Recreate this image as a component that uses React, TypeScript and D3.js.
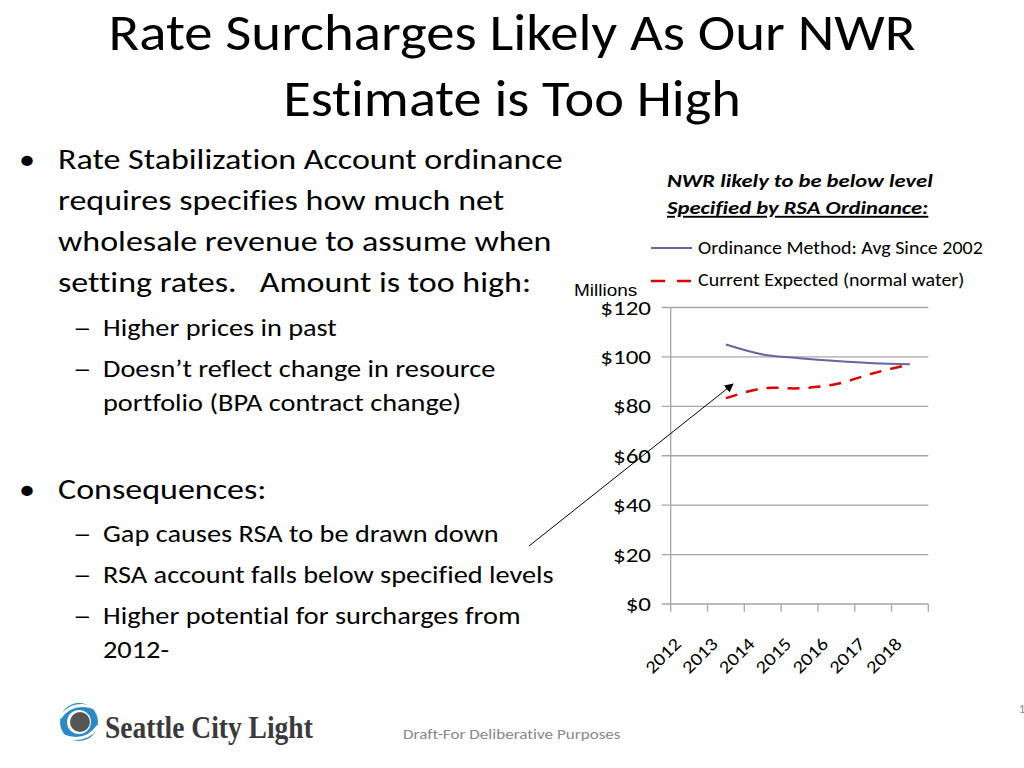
import React from 'react';
import * as d3 from 'd3';

const years = ['2012', '2013', '2014', '2015', '2016', '2017', '2018'];
const ordinance: (number | null)[] = [null, 105, 101, 99.5, 98.3, 97.4, 97];
const expected: (number | null)[] = [null, 83.3, 87.3, 87.3, 89, 93.4, 97];
const yTicks = [0, 20, 40, 60, 80, 100, 120];
const seriesNames = ['Ordinance Method: Avg Since 2002', 'Current Expected (normal water)'];

const bullets = [
  { lvl: 1, lines: ['Rate Stabilization Account ordinance', 'requires specifies how much net', 'wholesale revenue to assume when', 'setting rates.   Amount is too high:'], y: 160 },
  { lvl: 2, lines: ['Higher prices in past'], y: 327 },
  { lvl: 2, lines: ['Doesn\u2019t reflect change in resource', 'portfolio (BPA contract change)'], y: 368 },
  { lvl: 1, lines: ['Consequences:'], y: 490 },
  { lvl: 2, lines: ['Gap causes RSA to be drawn down'], y: 533 },
  { lvl: 2, lines: ['RSA account falls below specified levels'], y: 574 },
  { lvl: 2, lines: ['Higher potential for surcharges from', '2012-'], y: 615 },
];

const FONT = 'Carlito, Calibri, Lato, "Open Sans", sans-serif';

type TP = { x: number; y: number; sx?: number; rot?: number; children: React.ReactNode; [k: string]: any };
function T({ x, y, sx = 1, rot = 0, children, ...rest }: TP) {
  return (
    <text transform={`translate(${x},${y}) rotate(${rot}) scale(${sx},1)`} style={{ whiteSpace: 'pre', fontVariantLigatures: 'none' }} {...rest}>
      {children}
    </text>
  );
}

export default function App() {
  const x = d3.scaleBand<string>().domain(years).range([670.7, 928.3]);
  const y = d3.scaleLinear().domain([0, 120]).range([604, 307.5]);
  const cx = (i: number) => (x(years[i]) as number) + x.bandwidth() / 2;
  const mk = (arr: (number | null)[]) =>
    d3.line<number | null>()
      .defined((d) => d !== null)
      .x((_, i) => cx(i))
      .y((d) => y(d as number))
      .curve(d3.curveCatmullRom.alpha(0.5))(arr) || '';

  return (
    <svg width={1024} height={768} style={{ position: 'absolute', left: 0, top: 0, background: '#fff' }}>
      <defs>
        <marker id="ah" viewBox="0 0 10 10" refX="9" refY="5" markerWidth="9" markerHeight="9" orient="auto">
          <path d="M0,0 L10,5 L0,10 z" fill="#000" />
        </marker>
      </defs>
      {/* Title */}
      <g fontFamily={FONT} fill="#000" textAnchor="middle" fontSize={51}>
        <T x={512} y={50} sx={1.112}>Rate Surcharges Likely As Our NWR</T>
        <T x={512} y={116} sx={1.105}>Estimate is Too High</T>
      </g>
      {/* Bullets */}
      <g fontFamily={FONT} fill="#000">
        {bullets.map((b, bi) =>
          b.lines.map((ln, li) => {
            const yy = b.y + li * (b.lvl === 1 ? 41 : 34) + 8.5;
            return (
              <g key={bi + '-' + li}>
                {li === 0 && (
                  <T x={b.lvl === 1 ? 19 : 73} y={yy} sx={b.lvl === 1 ? 1.15 : 1.55} fontSize={b.lvl === 1 ? 28 : 24}>
                    {b.lvl === 1 ? '\u2022' : '\u2013'}
                  </T>
                )}
                <T x={b.lvl === 1 ? 58 : 103} y={yy} sx={b.lvl === 1 ? 1.215 : 1.18} fontSize={b.lvl === 1 ? 28 : 24}>
                  {ln}
                </T>
              </g>
            );
          })
        )}
      </g>
      {/* Chart heading */}
      <g fontFamily={FONT} fontWeight="bold" fontStyle="italic" fontSize={19} fill="#000">
        <T x={667} y={187} sx={1.19}>NWR likely to be below level</T>
        <T x={667} y={214} sx={1.19} textDecoration="underline">Specified by RSA Ordinance:</T>
      </g>
      {/* Legend */}
      <g fontFamily={FONT} fontSize={18} fill="#000">
        <line x1={651} x2={692} y1={248} y2={248} stroke="#65659f" strokeWidth={2} />
        <T x={698} y={254} sx={1.11}>{seriesNames[0]}</T>
        <line x1={651} x2={692} y1={281} y2={281} stroke="#e00000" strokeWidth={2.5} strokeDasharray="14,12" />
        <T x={698} y={286} sx={1.11}>{seriesNames[1]}</T>
      </g>
      <T x={574} y={296} sx={1.15} fontFamily="Liberation Sans, Arial, sans-serif" fontSize={16.5} fill="#000">Millions</T>
      {/* Grid */}
      <g>
        {yTicks.map((t) => (
          <g key={t}>
            <line x1={661.7} x2={928.3} y1={y(t)} y2={y(t)} stroke="#a6a6a6" strokeWidth={1.3} />
            <T x={651} y={y(t) + 7} sx={1.25} textAnchor="end" fontFamily={FONT} fontSize={20} fill="#000">${t}</T>
          </g>
        ))}
        <line x1={670.7} x2={670.7} y1={y(120)} y2={y(0)} stroke="#a6a6a6" strokeWidth={1.3} />
        {[...years.map((yr) => x(yr) as number), 928.3].map((v, i) => (
          <line key={i} x1={v} x2={v} y1={y(0)} y2={611.7} stroke="#a6a6a6" strokeWidth={1.3} />
        ))}
        {years.map((yr, i) => (
          <T key={yr} x={cx(i) - 7} y={645} rot={-45} sx={1.15} textAnchor="end" fontFamily={FONT} fontSize={18} fill="#000">
            {yr}
          </T>
        ))}
      </g>
      {/* Lines */}
      <path d={mk(ordinance)} fill="none" stroke="#65659f" strokeWidth={2} />
      <path d={mk(expected)} fill="none" stroke="#e00000" strokeWidth={2.5} strokeDasharray="12,9" />
      {/* Arrow */}
      <line x1={529} y1={546} x2={733} y2={384} stroke="#000" strokeWidth={1} markerEnd="url(#ah)" />
      {/* Logo */}
      <g>
        <circle cx={79} cy={722} r={19} fill="#2a8ac7" />
        <circle cx={79} cy={722} r={12} fill="#fff" />
        <circle cx={80} cy={722} r={10} fill="#555" />
        <path d="M60,718 Q72,700 95,708" stroke="#fff" strokeWidth={3} fill="none" />
        <path d="M98,726 Q86,744 63,736" stroke="#fff" strokeWidth={3} fill="none" />
        <T x={105} y={738} sx={0.86} fontFamily="Liberation Serif, serif" fontWeight="bold" fontSize={32} fill="#3a3a3a">
          Seattle City Light
        </T>
      </g>
      <T x={403} y={739} sx={1.14} fontFamily={FONT} fontSize={15} fill="#888">Draft-For Deliberative Purposes</T>
      <text x={1019} y={713} fontFamily={FONT} fontSize={12} fill="#888">1</text>
    </svg>
  );
}
